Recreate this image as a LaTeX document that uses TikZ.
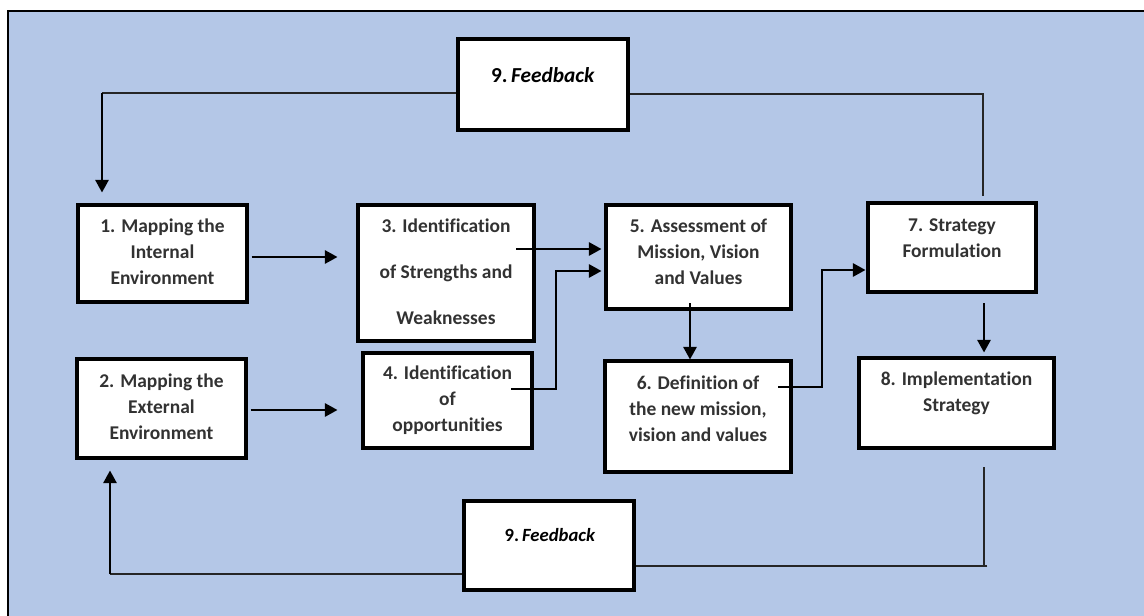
\documentclass[tikz,border=0pt]{standalone}
\usepackage{fontspec}
\setmainfont{Carlito}[Ligatures=NoCommon]
\usetikzlibrary{arrows.meta}
\definecolor{bg}{RGB}{180,199,231}
\definecolor{txtc}{RGB}{50,50,50}
\begin{document}
\begin{tikzpicture}[x=0.75pt,y=-0.75pt,
  box/.style={draw=black, line width=2.3pt, fill=white, inner sep=0pt},
  lbl/.style={text=txtc, font=\bfseries\fontsize{14.6}{19.5}\selectfont, align=center, inner sep=0pt},
  lblwide/.style={text=txtc, font=\bfseries\fontsize{14.6}{34.5}\selectfont, align=center, inner sep=0pt},
  fbtop/.style={text=black, font=\bfseries\fontsize{16}{19}\selectfont, inner sep=0pt},
  fbbot/.style={text=black, font=\bfseries\fontsize{14}{17}\selectfont, inner sep=0pt},
  arr/.style={draw=black, line width=1.6pt, -{Triangle[length=9.5pt,width=10pt]}},
  fb/.style={draw=black!85, line width=1pt},
]
\useasboundingbox (0,0) rectangle (1144,616);
\begin{scope}
\clip (0,0) rectangle (1144,616);
\fill[white] (0,0) rectangle (1144,616);
\filldraw[fill=bg, draw=black, line width=0.8pt] (8,11) rectangle (1170,640);
\end{scope}

% boxes
\node[box, minimum width=126.75pt, minimum height=72.75pt] (b1) at (162.5,253.5) {};
\node[box, minimum width=126.75pt, minimum height=74.25pt] (b2) at (161.5,408.5) {};
\node[box, minimum width=132pt, minimum height=102pt] (b3) at (446,273) {};
\node[box, minimum width=126.75pt, minimum height=71.25pt] (b4) at (447.5,400.5) {};
\node[box, minimum width=138.75pt, minimum height=78pt] (b5) at (698.5,257) {};
\node[box, minimum width=139.5pt, minimum height=83.25pt] (b6) at (698,416.5) {};
\node[box, minimum width=126pt, minimum height=66.75pt] (b7) at (952,247.5) {};
\node[box, minimum width=146.25pt, minimum height=67.5pt] (b8) at (956.5,403) {};
\node[box, minimum width=127.5pt, minimum height=68.25pt] (f1) at (543,84.5) {};
\node[box, minimum width=127.5pt, minimum height=66.75pt] (f2) at (549,545.5) {};

% texts
\node[lbl] (t1) at (162.5,252) {1. Mapping the\\Internal\\Environment};
\node[lbl] (t2) at (161.5,407) {2. Mapping the\\External\\Environment};
\node[lblwide] (t3) at (446,272) {3. Identification\\of Strengths and\\Weaknesses};
\node[lbl] (t4) at (447.5,400) {4. Identification\\of\\opportunities};
\node[lbl] (t5) at (698.5,252) {5. Assessment of\\Mission, Vision\\and Values};
\node[lbl] (t6) at (698,409) {6. Definition of\\the new mission,\\vision and values};
\node[lbl] (t7) at (952,238.5) {7. Strategy\\Formulation};
\node[lbl] (t8) at (956.5,393) {8. Implementation\\Strategy};
\node[fbtop] (tf1) at (543,75) {9.\,\textit{Feedback}};
\node[fbbot] (tf2) at (550,535) {9.\,\textit{Feedback}};

% coordinates
\coordinate (p1) at (102,93);
\coordinate (p2) at (983,94);
\coordinate (s3) at (516,249);
\coordinate (s4) at (511,389);
\coordinate (k4) at (556,271);
\coordinate (s5) at (690,303);
\coordinate (s6) at (778,387);
\coordinate (k6) at (822,270);
\coordinate (s7) at (984,303);
\coordinate (s8) at (984,467);
\coordinate (k8) at (984,566);
\coordinate (k9) at (110,574);

% top feedback
\draw[fb] (f1.west |- p1) -- (p1);
\draw[arr, shorten >=8.25pt] (p1) -- (p1 |- b1.north);
\draw[fb, shorten >=3.75pt] (f1.east |- p2) -- (p2) -- (p2 |- b7.north);

% main flow
\draw[arr, shorten <=2.25pt, shorten >=14.25pt] (b1.east |- 0,257) -- (b3.west |- 0,257);
\draw[arr, shorten <=2.25pt, shorten >=18pt] (b2.east |- 0,410) -- (b4.west |- 0,410);
\draw[arr, shorten >=2.25pt] (s3) -- (b5.west |- s3);
\draw[arr, shorten >=2.25pt] (s4) -| (k4) -- (b5.west |- k4);
\draw[arr] (s5) -- (s5 |- b6.north);
\draw[arr, shorten >=0.75pt] (s6) -| (k6) -- (b7.west |- k6);
\draw[arr, shorten >=3pt] (s7) -- (s7 |- b8.north);

% bottom feedback
\draw[fb] (s8) -- (k8);
\draw[fb] ([xshift=2.5pt]k8) -- (f2.east |- k8);
\draw[fb] (f2.west |- k9) -- (k9);
\draw[arr, shorten >=8.25pt] (k9) -- (k9 |- b2.south);
\end{tikzpicture}
\end{document}
